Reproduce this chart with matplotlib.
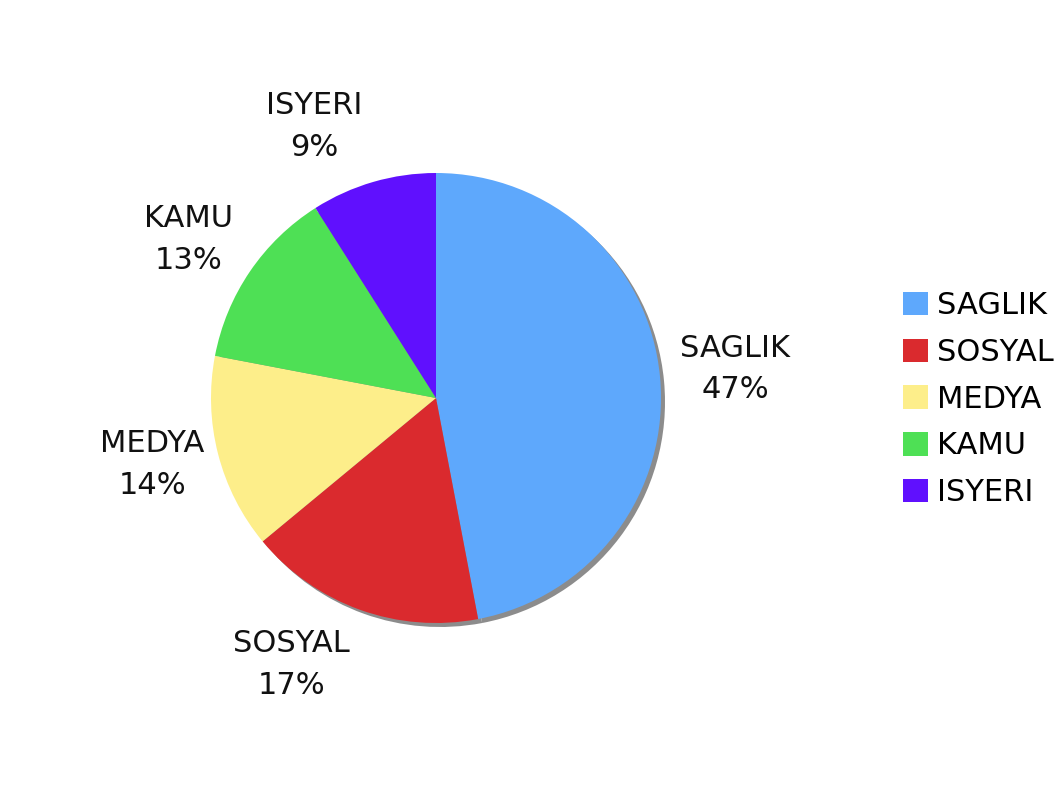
import matplotlib
matplotlib.use("Agg")
import matplotlib.pyplot as plt
import matplotlib.transforms as mtransforms
from matplotlib.patches import Patch

# data
categories = ["SAGLIK", "SOSYAL", "MEDYA", "KAMU", "ISYERI"]
values = [47, 17, 14, 13, 9]
colors = ["#5EA8FC", "#DA2A2E", "#FDEE8A", "#4EE055", "#6010FE"]

# small nudges (pixels, x right / y down) so labels sit like the original
label_nudge = [(1, -1), (-43, -15), (6, -8), (0, 10), (-38, 16)]

fig = plt.figure(figsize=(10.6, 7.95), dpi=100)
ax = fig.add_axes([0, 0, 1, 1])

# shadow: same pie in gray shifted a few pixels right/down
shift = mtransforms.offset_copy(ax.transData, fig=fig, x=4, y=-4, units="dots")
shadow, _ = ax.pie(values, colors=["#8C8C8C"] * len(values), startangle=90,
                   counterclock=False, radius=1.0, frame=True)
for w in shadow:
    w.set_transform(shift)
    w.set_zorder(1)

labels = ["{}\n{}%".format(c, v) for c, v in zip(categories, values)]
wedges, texts = ax.pie(values, colors=colors, labels=labels, startangle=90,
                       counterclock=False, radius=1.0, labeldistance=1.33,
                       textprops={"fontsize": 22, "color": "#111111"}, frame=True)
for w in wedges:
    w.set_zorder(2)
    w.set_linewidth(0)
for t, (nx, ny) in zip(texts, label_nudge):
    t.set_ha("center")
    t.set_va("center")
    t.set_multialignment("center")
    t.set_linespacing(1.55)
    t.set_transform(mtransforms.offset_copy(ax.transData, fig=fig, x=nx, y=-ny, units="dots"))

ax.set_xlim(-436 / 225, (1060 - 436) / 225)
ax.set_ylim(-(795 - 398) / 225, 398 / 225)
ax.set_aspect("auto")
ax.axis("off")

handles = [Patch(facecolor=c, edgecolor="none") for c in colors]
fig.legend(handles, categories, loc="upper left",
           bbox_to_anchor=(888 / 1060, 1 - 276 / 795), frameon=False,
           fontsize=22, handlelength=0.8, handleheight=0.8, handletextpad=0.3,
           labelspacing=0.58, borderpad=0)

fig.savefig("out.png", dpi=100)
